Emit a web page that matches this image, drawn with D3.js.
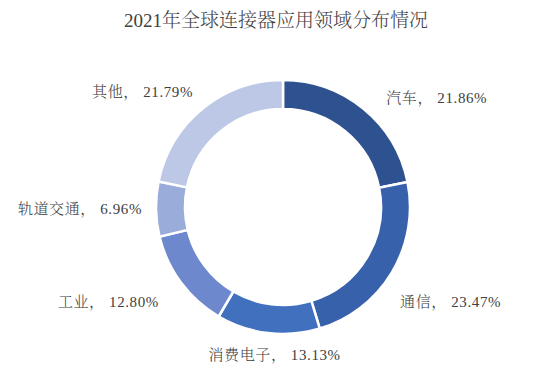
<!DOCTYPE html>
<html><head><meta charset="utf-8">
<script src="https://cdn.jsdelivr.net/npm/d3@7"></script>
<style>
html,body{margin:0;padding:0;background:#fff;}
svg{display:block;}
</style></head>
<body>
<svg id="chart" width="550" height="368"></svg>
<script>
// ---- data ----
const categories = ["汽车", "通信", "消费电子", "工业", "轨道交通", "其他"];
const shares = [21.86, 23.47, 13.13, 12.80, 6.96, 21.79];
const colors = ["#2E528F", "#3761AA", "#4170BF", "#6D88CC", "#9AACDA", "#BCC8E5"];
const title = "2021年全球连接器应用领域分布情况";

// ---- layout ----
const W = 550, H = 368;
const cx = 283, cy = 207, outerR = 127, innerR = 98;
const labelR = outerR + 20;
const labelNudge = [[10, 5], [-9, 19], [9, 2], [-6, 8], [6, 0], [3, -1]];
const fontFam = "'Liberation Serif','Noto Serif CJK SC','Noto Sans CJK SC',serif";

const svg = d3.select("#chart");
svg.append("text")
  .attr("x", W / 2 + 1).attr("y", 20)
  .attr("text-anchor", "middle").attr("dominant-baseline", "central")
  .attr("font-family", fontFam).attr("font-size", 19).attr("font-weight", 300)
  .attr("fill", "#404040").text(title);

const data = categories.map((c, i) => ({ name: c, value: shares[i], color: colors[i] }));
const pie = d3.pie().value(d => d.value).sort(null);
const arcs = pie(data);
const arc = d3.arc().innerRadius(innerR).outerRadius(outerR);

const g = svg.append("g").attr("transform", `translate(${cx},${cy})`);
g.selectAll("path").data(arcs).join("path")
  .attr("d", arc)
  .attr("fill", d => d.data.color)
  .attr("stroke", "#fff").attr("stroke-width", 2.5);

g.selectAll("text.lbl").data(arcs).join("text")
  .attr("class", "lbl")
  .each(function (d, i) {
    const a = (d.startAngle + d.endAngle) / 2;
    const s = Math.sin(a), c = Math.cos(a);
    const x = labelR * s + labelNudge[i][0];
    const y = -labelR * c + labelNudge[i][1];
    const anchor = s > 0.2 ? "start" : (s < -0.2 ? "end" : "middle");
    d3.select(this).attr("x", x).attr("y", y).attr("text-anchor", anchor);
  })
  .attr("dominant-baseline", "central")
  .attr("font-family", fontFam).attr("font-size", 15).attr("font-weight", 300)
  .attr("letter-spacing", 0.6)
  .attr("fill", "#404040")
  .text(d => `${d.data.name}， ${d.data.value.toFixed(2)}%`);
</script>
</body></html>
